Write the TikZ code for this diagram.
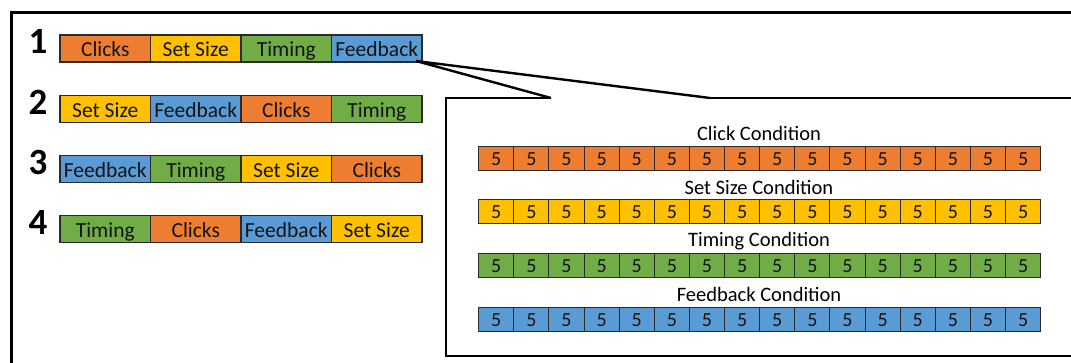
\documentclass[tikz,border=0pt]{standalone}
\usepackage{fontspec}
\setmainfont{Carlito}
\definecolor{cOrange}{HTML}{ED7D31}
\definecolor{cGold}{HTML}{FFC000}
\definecolor{cGreen}{HTML}{70AD47}
\definecolor{cBlue}{HTML}{5B9BD5}
\definecolor{cLine}{HTML}{2B2B2B}
\tikzset{
  cell/.style={draw=cLine, line width=1.1pt, minimum width=90.5pt, minimum height=27pt,
    inner sep=0pt, outer sep=0pt, text height=17pt, text depth=0pt,
    font=\fontsize{21.5}{21.5}\selectfont, text=black!92},
  tcell/.style={draw=cLine, line width=1pt, minimum width=35.1pt, minimum height=24pt,
    inner sep=0pt, outer sep=0pt, text height=13.8pt, text depth=0pt,
    font=\fontsize{20}{20}\selectfont, text=black!92},
  rownum/.style={font=\fontsize{37}{37}\selectfont\bfseries, inner sep=0pt},
  ctitle/.style={font=\fontsize{20.5}{20.5}\selectfont, inner sep=0pt},
  frame/.style={line width=2.6pt, draw=black},
  Clicks/.style={cell, fill=cOrange},
  SetSize/.style={cell, fill=cGold},
  Timing/.style={cell, fill=cGreen},
  Feedback/.style={cell, fill=cBlue}
}
\begin{document}
\begin{tikzpicture}[x=1pt,y=-1pt]
\useasboundingbox (0,0) rectangle (1071,363);
\clip (0,0) rectangle (1071,363);
\fill[white] (0,0) rectangle (1071,363);
% outer frame
\draw[frame] (11.5,400) -- (11.5,12.5) -- (1120,12.5);
% row numbers
\node[rownum] (n1) at (38,41) {1};
\node[rownum] (n2) at (38,102) {2};
\node[rownum] (n3) at (38,162) {3};
\node[rownum] (n4) at (38,222) {4};
% rows of blocks
\foreach \r/\y/\a/\b/\c/\d/\ta/\tb/\tc/\td in {
  1/48.5/Clicks/SetSize/Timing/Feedback/Clicks/Set Size/Timing/Feedback,
  2/108.8/SetSize/Feedback/Clicks/Timing/Set Size/Feedback/Clicks/Timing,
  3/169.1/Feedback/Timing/SetSize/Clicks/Feedback/Timing/Set Size/Clicks,
  4/229.4/Timing/Clicks/Feedback/SetSize/Timing/Clicks/Feedback/Set Size}{
  \node[\a] (r\r c1) at (105.25,\y) {\ta};
  \node[\b] (r\r c2) at (195.75,\y) {\tb};
  \node[\c] (r\r c3) at (286.25,\y) {\tc};
  \node[\d] (r\r c4) at (376.75,\y) {\td};
}
% callout box
\coordinate (cA) at (551,98);
\coordinate (cB) at (710,98);
\draw[frame, line join=miter] (cA) -- (446,98) -- (446,356) -- (1120,356);
\draw[frame] (cB) -- (1120,98);
\draw[line width=2.4pt, line join=miter] (cA) -- ([xshift=-6pt,yshift=1pt]r1c4.south east) -- (cB);
% condition titles
\node[ctitle] (t1) at (759,133) {Click Condition};
\node[ctitle] (t2) at (759,187) {Set Size Condition};
\node[ctitle] (t3) at (759,241) {Timing Condition};
\node[ctitle] (t4) at (759,294.5) {Feedback Condition};
% condition bars
\foreach \k/\y/\col in {1/158.7/cOrange, 2/212/cGold, 3/266/cGreen, 4/319.5/cBlue}{
  \foreach \i in {1,...,16}{
    \node[tcell, fill=\col] (b\k-\i) at ({478.7+35.125*(\i-0.5)},\y) {5};
  }
}
\end{tikzpicture}
\end{document}
